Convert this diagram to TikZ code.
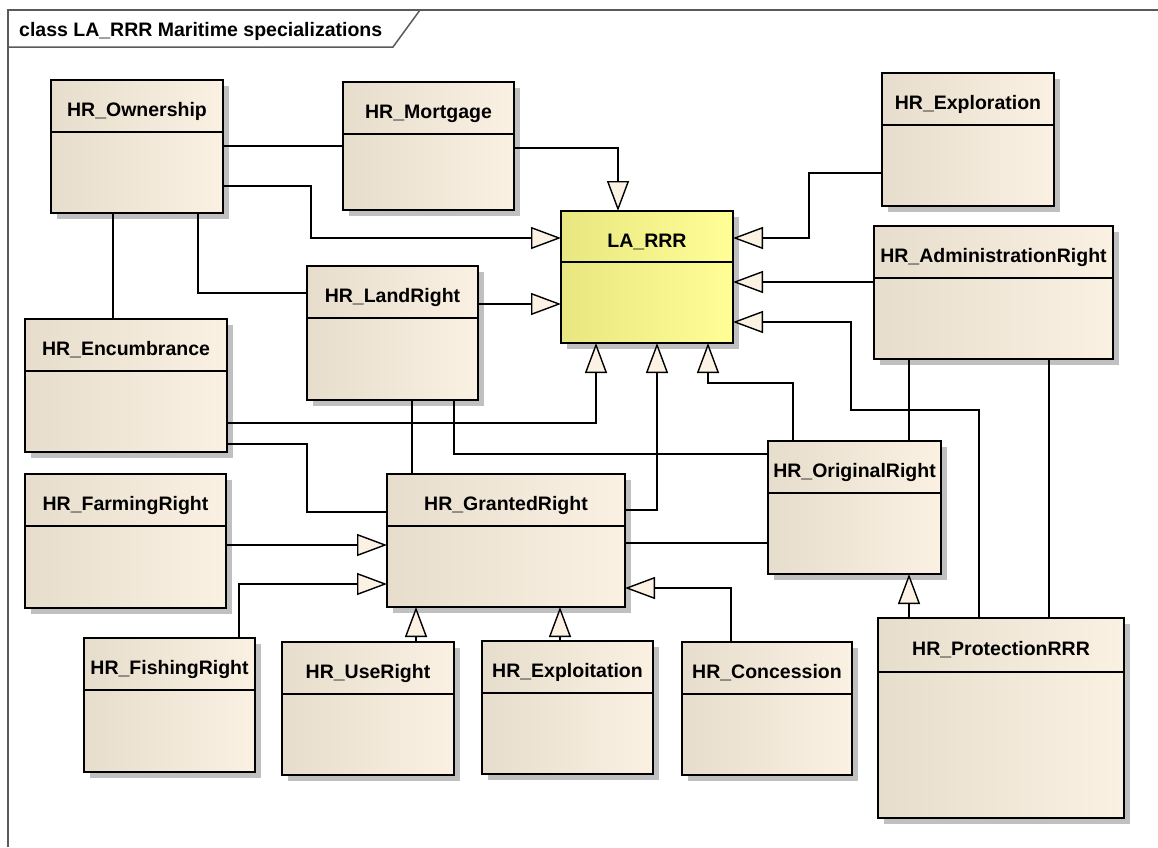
\documentclass[tikz,border=0pt]{standalone}
\usepackage{fontspec}
\setmainfont{Liberation Sans}
\usetikzlibrary{arrows.meta,shadows}

\definecolor{boxL}{RGB}{230,221,204}
\definecolor{boxR}{RGB}{251,241,227}
\definecolor{rrrL}{RGB}{232,230,128}
\definecolor{rrrR}{RGB}{255,255,150}
\definecolor{tipfill}{RGB}{251,242,228}
\definecolor{shadegray}{RGB}{192,192,192}
\definecolor{framegray}{RGB}{90,90,90}

\tikzset{
  cls/.style={rectangle, draw=black, line width=2pt, inner sep=0pt, outer sep=0pt,
    left color=boxL, right color=boxR,
    general shadow={fill=shadegray, shadow xshift=6pt, shadow yshift=-6pt}},
  rrrcls/.style={cls, left color=rrrL, right color=rrrR},
  divline/.style={draw=black, line width=1.6pt},
  lbl/.style={font=\bfseries\fontsize{19.5}{22}\selectfont, inner sep=0pt, anchor=base},
  assoc/.style={draw=black, line width=1.4pt},
  gen/.style={assoc, -{Triangle[length=30pt, width=22pt, fill=tipfill]}},
  framestyle/.style={draw=framegray, line width=1.5pt}
}

% class box: name, left, top, right, bottom, divider, label, style
\newcommand\umlclass[8]{%
  \node[#8, minimum width={#4-#2}, minimum height={#5-#3}, anchor=north west] (#1) at (#2,#3) {};
  \draw[divline] (#2,#6) -- (#4,#6);
  \node[lbl] at ({(#2+#4)/2},{(#3+#6)/2+10.5}) {#7};
}

\begin{document}
\begin{tikzpicture}[x=1pt, y=-1pt]
  \useasboundingbox (0,0) rectangle (1158,847);
  \fill[white] (0,0) rectangle (1158,847);

  % diagram frame and name tab
  \draw[framestyle] (8,847) -- (8,10) -- (1158,10);
  \draw[framestyle] (8,47) -- (393,47) -- (420,10);
  \node[font=\bfseries\fontsize{19.5}{22}\selectfont, inner sep=0pt, anchor=base west] (title) at (19,36) {class LA\_RRR Maritime specializations};

  % classes
  \umlclass{own}{51}{80}{223}{213}{132}{HR\_Ownership}{cls}
  \umlclass{mort}{343}{82}{514}{210}{134}{HR\_Mortgage}{cls}
  \umlclass{expl}{882}{73}{1054}{206}{125}{HR\_Exploration}{cls}
  \umlclass{larrr}{561}{211}{733}{343}{262}{LA\_RRR}{rrrcls}
  \umlclass{admin}{874}{226}{1113}{359}{278}{HR\_AdministrationRight}{cls}
  \umlclass{land}{307}{266}{478}{400}{318}{HR\_LandRight}{cls}
  \umlclass{encum}{25}{319}{227}{452}{371}{HR\_Encumbrance}{cls}
  \umlclass{granted}{387}{474}{625}{607}{526}{HR\_GrantedRight}{cls}
  \umlclass{orig}{768}{441}{941}{574}{493}{HR\_OriginalRight}{cls}
  \umlclass{farm}{25}{474}{226}{608}{526}{HR\_FarmingRight}{cls}
  \umlclass{fish}{84}{638}{255}{772}{690}{HR\_FishingRight}{cls}
  \umlclass{use}{282}{642}{454}{775}{694}{HR\_UseRight}{cls}
  \umlclass{exploit}{482}{641}{653}{774}{693}{HR\_Exploitation}{cls}
  \umlclass{conc}{682}{642}{852}{775}{694}{HR\_Concession}{cls}
  \umlclass{prot}{878}{618}{1124}{818}{672}{HR\_ProtectionRRR}{cls}

  % connectors
  \draw[gen] (own.east |- 0,186) -| (311,238) -- (larrr.west |- 0,238);
  \draw[assoc] (own.east |- 0,146) -- (mort.west |- 0,146);
  \draw[gen] (mort.east |- 0,148) -| (larrr.north -| 618,0);
  \draw[gen] (expl.west |- 0,173) -| (809,238) -- (larrr.east |- 0,238);
  \draw[gen] (admin.west |- 0,282) -- (larrr.east |- 0,282);
  \draw[gen] (prot.north -| 979,0) -- (979,410) -| (851,322) -- (larrr.east |- 0,322);
  \draw[assoc] (admin.south -| 1049,0) -- (prot.north -| 1049,0);
  \draw[assoc] (admin.south -| 909,0) -- (orig.north -| 909,0);
  \draw[gen] (orig.north -| 793,0) -- (793,383) -| (larrr.south -| 708,0);
  \draw[gen] (land.east |- 0,304) -- (larrr.west |- 0,304);
  \draw[assoc] (own.south -| 198,0) |- (land.west |- 0,293);
  \draw[assoc] (own.south -| 113,0) -- (encum.north -| 113,0);
  \draw[gen] (encum.east |- 0,423) -| (larrr.south -| 596,0);
  \draw[assoc] (encum.east |- 0,444) -| (307,512) -- (granted.west |- 0,512);
  \draw[assoc] (land.south -| 412,0) -- (granted.north -| 412,0);
  \draw[assoc] (land.south -| 454,0) |- (orig.west |- 0,454);
  \draw[gen] (granted.east |- 0,510) -| (larrr.south -| 657,0);
  \draw[assoc] (granted.east |- 0,543) -- (orig.west |- 0,543);
  \draw[gen] (farm.east |- 0,545) -- (granted.west |- 0,545);
  \draw[gen] (fish.north -| 239,0) |- (granted.west |- 0,584);
  \draw[gen] (use.north -| 416,0) -- (granted.south -| 416,0);
  \draw[gen] (exploit.north -| 560,0) -- (granted.south -| 560,0);
  \draw[gen] (conc.north -| 731,0) |- (granted.east |- 0,588);
  \draw[gen] (prot.north -| 909,0) -- (orig.south -| 909,0);
\end{tikzpicture}
\end{document}
